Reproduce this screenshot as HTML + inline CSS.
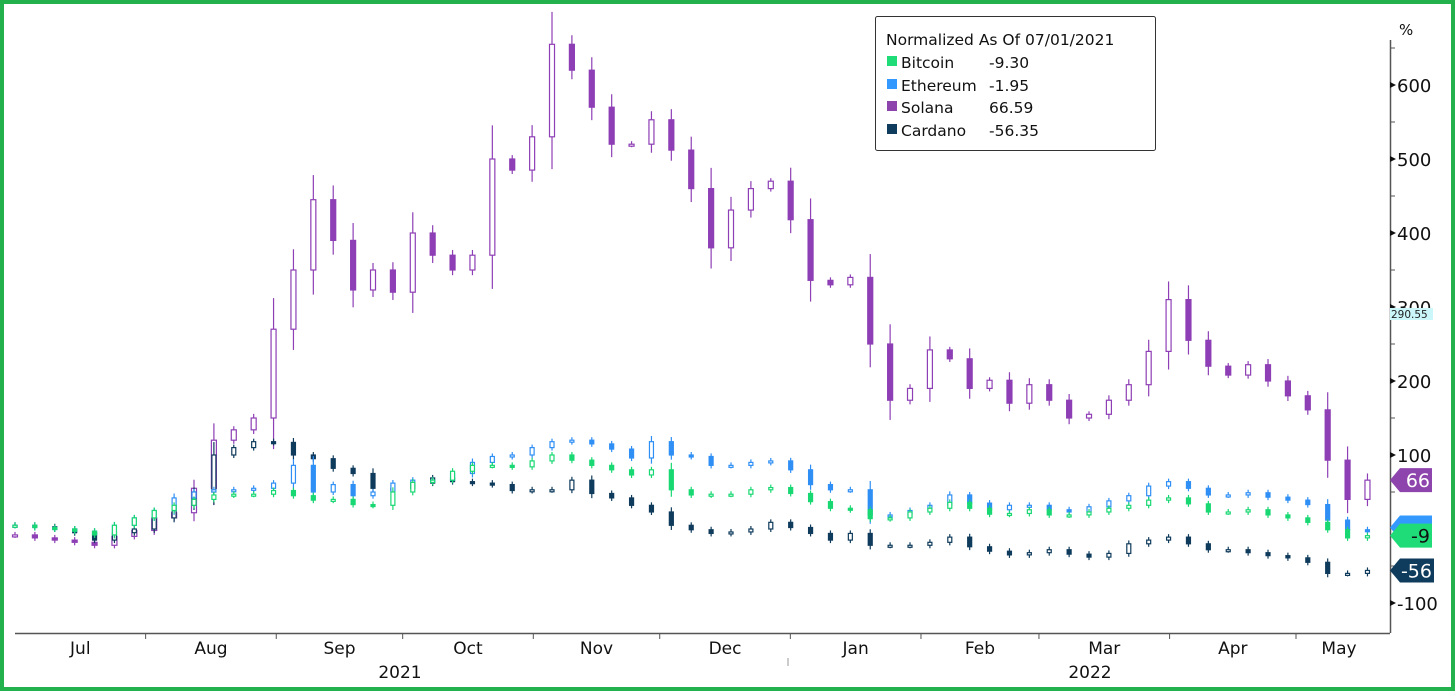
<!DOCTYPE html>
<html><head><meta charset="utf-8"><style>
html,body{margin:0;padding:0;background:#fff;}
#wrap{position:relative;width:1455px;height:691px;box-sizing:border-box;border:4px solid #22b14c;background:#fff;overflow:hidden;}
svg{position:absolute;left:-4px;top:-4px;}
text{font-family:"DejaVu Sans","Liberation Sans",sans-serif;}
</style></head><body>
<div id="wrap">
<svg id="chart" width="1455" height="691" viewBox="0 0 1455 691">
  <g id="candles"></g>
  <g id="axes"></g>
  <g>
    <rect x="875.5" y="16.5" width="280" height="134" rx="2" fill="#fff" stroke="#333" stroke-width="1"/>
    <text x="886" y="45" font-size="15.5" fill="#111">Normalized As Of 07/01/2021</text>
    <g><rect x="887" y="56" width="10" height="10" fill="#1fdc78"/><text x="901" y="68" font-size="15.5" fill="#111">Bitcoin</text><text x="989" y="68" font-size="15.5" fill="#111">-9.30</text></g>
    <g><rect x="887" y="79" width="10" height="10" fill="#3399ff"/><text x="901" y="91" font-size="15.5" fill="#111">Ethereum</text><text x="989" y="91" font-size="15.5" fill="#111">-1.95</text></g>
    <g><rect x="887" y="101" width="10" height="10" fill="#8e44ad"/><text x="901" y="113" font-size="15.5" fill="#111">Solana</text><text x="989" y="113" font-size="15.5" fill="#111">66.59</text></g>
    <g><rect x="887" y="124" width="10" height="10" fill="#0f3b5c"/><text x="901" y="136" font-size="15.5" fill="#111">Cardano</text><text x="989" y="136" font-size="15.5" fill="#111">-56.35</text></g>
  </g>
  <g id="tags"></g>
</svg>
</div>
<script>
const yTicks=[600,500,400,300,200,100,-100];
const monthLabels=["Jul","Aug","Sep","Oct","Nov","Dec","Jan","Feb","Mar","Apr","May"];
const monthStartDays=[0,31,62,92,123,153,184,215,243,274,304];
const yearLabels=["2021","2022"];
const dayStep=4.72;
const solana=[-8,-12,-15,-18,-22,-10,-2,15,22,55,120,134,150,270,350,445,390,323,350,320,400,370,350,370,500,485,530,655,620,570,520,520,553,512,460,380,431,460,470,418,336,330,340,250,174,190,242,230,190,201,170,195,174,150,155,174,195,240,310,255,220,208,222,200,180,161,93,40,66];
const ethereum=[5,2,0,-3,-8,5,15,25,42,50,53,53,55,62,86,50,60,45,50,62,66,66,75,90,98,100,110,118,120,115,108,96,118,100,98,86,86,90,92,80,60,53,53,19,19,25,32,46,35,26,32,32,26,23,30,38,45,58,64,55,46,46,49,43,39,33,12,-1,-2];
const bitcoin=[5,2,0,-3,-8,5,15,25,32,40,46,47,47,52,45,39,40,33,32,50,63,66,78,86,86,84,92,100,93,86,80,73,80,53,46,47,47,53,56,48,37,28,26,14,15,23,28,36,28,20,21,26,19,19,23,28,32,39,42,34,23,23,26,19,15,9,-1,-12,-9];
const cardano=[5,3,0,-5,-15,-5,0,15,32,50,100,110,118,117,100,95,82,75,55,55,62,69,64,62,60,52,53,53,66,48,42,32,23,5,-1,-6,-4,0,9,2,-6,-15,-6,-22,-22,-22,-18,-11,-24,-30,-35,-32,-28,-34,-38,-33,-20,-15,-11,-20,-28,-28,-32,-36,-39,-45,-60,-60,-56];

const NS="http://www.w3.org/2000/svg";
const X0=15,PX_PER_DAY=(1296-15)/304;
const xDay=d=>X0+d*PX_PER_DAY;
const yVal=v=>529-v*0.74;
function mk(tag,attrs,parent){const e=document.createElementNS(NS,tag);for(const k in attrs)e.setAttribute(k,attrs[k]);parent.appendChild(e);return e;}

const cg=document.getElementById('candles');
const series=[
 {name:'solana',data:solana,dark:'#8e3fb5',w:5},
 {name:'cardano',data:cardano,dark:'#0f3b5c',w:4},
 {name:'ethereum',data:ethereum,dark:'#2f8ff5',w:4},
 {name:'bitcoin',data:bitcoin,dark:'#19d873',w:4}
];
series.forEach(s=>{
  const g=mk('g',{},cg);
  
  
  s.data.forEach((c,i)=>{
    const o=i===0?c:s.data[i-1];
    const x=xDay(i*dayStep);
    const yo=yVal(o),yc=yVal(c);
    const top=Math.min(yo,yc),bot=Math.max(yo,yc);
    const pad=Math.max(3,(bot-top)*0.35);
    const up=c>=o;
    const cand=mk('g',{},g);
    
    
    mk('line',{x1:x,x2:x,y1:top-pad,y2:bot+pad,stroke:s.dark,'stroke-width':1.2},cand);
    mk('rect',{x:x-s.w/2,y:top,width:s.w,height:Math.max(2,bot-top),fill:up?'#fff':s.dark,stroke:s.dark,'stroke-width':1.2},cand);
  });
});

const ag=document.getElementById('axes');
mk('line',{x1:1390.5,x2:1390.5,y1:40,y2:633,stroke:'#555','stroke-width':1.5},ag);
mk('line',{x1:15,x2:1390,y1:633.5,y2:633.5,stroke:'#555','stroke-width':1.5},ag);
const pct=mk('text',{x:1399,y:35,'font-size':15,fill:'#111'},ag);pct.textContent='%';

yTicks.forEach(v=>{
  const y=yVal(v);
  mk('path',{d:`M1390 ${y-3} L1396 ${y} L1390 ${y+3}Z`,fill:'#111'},ag);
  const t=mk('text',{x:1397,y:y+7,'font-size':18,fill:'#111'},ag);
  
  
  t.textContent=v;
});
for(let v=-50;v<=650;v+=100){const y=yVal(v);mk('line',{x1:1390,x2:1395,y1:y,y2:y,stroke:'#555','stroke-width':1},ag);}
monthLabels.forEach((m,i)=>{
  const xa=xDay(monthStartDays[i]),xb=i+1<monthStartDays.length?xDay(monthStartDays[i+1]):1382;
  if(i>0)mk('line',{x1:xa,x2:xa,y1:633,y2:639,stroke:'#555','stroke-width':1},ag);
  const t=mk('text',{x:(xa+xb)/2,y:654,'font-size':17,fill:'#111','text-anchor':'middle'},ag);
  
  
  t.textContent=m;
});
mk('line',{x1:788,x2:788,y1:658,y2:666,stroke:'#999'},ag);
[[400,yearLabels[0]],[1090,yearLabels[1]]].forEach(([x,s])=>{
  const t=mk('text',{x:x,y:678,'font-size':17,fill:'#111','text-anchor':'middle'},ag);
  
  
  t.textContent=s;
});
const pm=mk('g',{},ag);


mk('rect',{x:1390,y:308,width:43,height:12,fill:'#ccf7fa'},pm);
const pt=mk('text',{x:1391,y:318,'font-size':10.5,fill:'#222'},pm);pt.textContent='290.55';

const tg=document.getElementById('tags');
function tag(v,label,color,w,tc){
  const y=yVal(v);
  const g=mk('g',{},tg);
  
  
  mk('path',{d:`M1390 ${y} L1400 ${y-12} L${1390+w} ${y-12} L${1390+w} ${y+12} L1400 ${y+12}Z`,fill:color},g);
  const t=mk('text',{x:1390+w-2,y:y+7,'font-size':19,fill:tc,'text-anchor':'end'},g);
  t.textContent=label;
}
tag(ethereum[ethereum.length-1]+4,'',"#3399ff",42,'#fff');
tag(bitcoin[bitcoin.length-1],'-9',"#1fdc78",42,'#111');
tag(solana[solana.length-1],'66',"#8e44ad",42,'#fff');
tag(cardano[cardano.length-1],'-56',"#0f3b5c",44,'#fff');
</script>
</body></html>
